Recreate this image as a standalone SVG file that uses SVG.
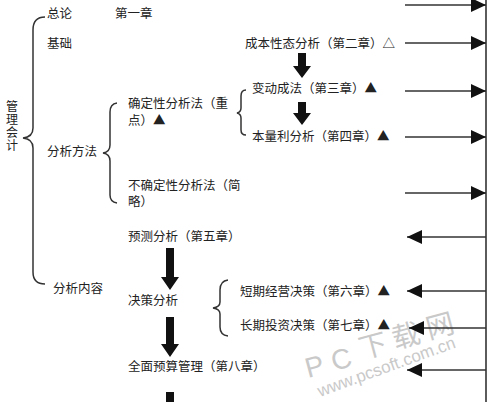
<svg xmlns="http://www.w3.org/2000/svg" width="494" height="402" viewBox="0 0 494 402">
<style>
.t{font-family:"Noto Sans CJK SC","Noto Sans",sans-serif;font-size:12.5px;fill:#222}
.ln{stroke:#333;stroke-width:1.6;fill:none}
.br{stroke:#333;stroke-width:1.5;fill:none}
.big{fill:#111}
.wm{font-family:"Liberation Sans","Noto Sans CJK SC",sans-serif;fill:#c9c9c9}
</style>
<defs>
<marker id="ah" markerUnits="userSpaceOnUse" markerWidth="16" markerHeight="16" refX="15" refY="7" orient="auto">
<path d="M0,0 L15,7 L0,14 Z" fill="#111"/>
</marker>
</defs>
<rect width="494" height="402" fill="#fff"/>

<g id="watermark">
<text class="wm" x="308" y="378" font-size="28" transform="rotate(-15 308 378)">P</text>
<text class="wm" x="334" y="371" font-size="28" transform="rotate(-15 334 371)">C</text>
<text class="wm" x="362" y="359" font-size="28" transform="rotate(-15 362 359)">下</text>
<text class="wm" x="395" y="349" font-size="28" transform="rotate(-15 395 349)">载</text>
<text class="wm" x="429" y="339" font-size="28" transform="rotate(-15 429 339)">网</text>
<text class="wm" x="320" y="397" font-size="17" transform="rotate(-20 320 397)">www.pcsoft.com.cn</text>
</g>

<g id="connectors">
<line class="ln" x1="486" y1="0" x2="486" y2="402" stroke-width="2"/>
<line class="ln" x1="405" y1="5" x2="486" y2="5" marker-end="url(#ah)"/>
<line class="ln" x1="405" y1="43" x2="486" y2="43" marker-end="url(#ah)"/>
<line class="ln" x1="405" y1="91" x2="486" y2="91" marker-end="url(#ah)"/>
<line class="ln" x1="405" y1="137" x2="486" y2="137" marker-end="url(#ah)"/>
<line class="ln" x1="405" y1="193" x2="486" y2="193" marker-end="url(#ah)"/>
<line class="ln" x1="486" y1="237" x2="407" y2="237" marker-end="url(#ah)"/>
<line class="ln" x1="486" y1="291" x2="407" y2="291" marker-end="url(#ah)"/>
<line class="ln" x1="486" y1="328" x2="409" y2="328" marker-end="url(#ah)"/>
<line class="ln" x1="486" y1="370" x2="407" y2="370" marker-end="url(#ah)"/>
<path class="big" d="M298,53 H306 V66 H311 L302,78 L293,66 H298 Z"/>
<path class="big" d="M298,102 H306 V113 H311 L302,125 L293,113 H298 Z"/>
<path class="big" d="M166,248 H174 V277 H179 L170,290 L161,277 H166 Z"/>
<path class="big" d="M166,317 H174 V344 H179 L170,357 L161,344 H166 Z"/>
<path class="big" d="M166,392 H174 V402 H166 Z"/>
<path class="br" d="M45,17 Q33,17 33,30 V128 Q33,137 23,138 Q33,139 33,148 V272 Q33,284 45,284"/>
<path class="br" d="M117,103 Q110,104 110,112 V145 Q110,152 103,153 Q110,154 110,161 V195 Q110,202 117,203"/>
<path class="br" d="M246,90 Q241,90 241,96 V108 Q241,112 237,113 Q241,114 241,118 V130 Q241,135 246,135"/>
<path class="br" d="M228,280 Q220,281 220,290 V302 Q220,307 213,308 Q220,309 220,314 V327 Q220,335 228,336"/>
</g>

<g id="n-root"><text class="t" x="12" y="100" style="writing-mode:vertical-rl;font-size:12px" letter-spacing="1">管理会计</text></g>
<g id="n-zonglun"><text class="t" x="47" y="17.5">总论</text></g>
<g id="n-ch1"><text class="t" x="115" y="17.5">第一章</text></g>
<g id="n-jichu"><text class="t" x="47" y="47.5">基础</text></g>
<g id="n-ch2"><text class="t" x="245" y="47.5">成本性态分析（第二章）△</text></g>
<g id="n-ch3"><text class="t" x="252" y="92.5">变动成法（第三章）▲</text></g>
<g id="n-ch4"><text class="t" x="252" y="140.5">本量利分析（第四章）▲</text></g>
<g id="n-queding"><text class="t"><tspan x="128" y="107.5">确定性分析法（重</tspan><tspan x="128" y="124.5">点）▲</tspan></text></g>
<g id="n-fangfa"><text class="t" x="47" y="155.5">分析方法</text></g>
<g id="n-buqueding"><text class="t"><tspan x="128" y="189.5">不确定性分析法（简</tspan><tspan x="128" y="205.5">略）</tspan></text></g>
<g id="n-ch5"><text class="t" x="128" y="240.5">预测分析（第五章）</text></g>
<g id="n-neirong"><text class="t" x="53" y="292.5">分析内容</text></g>
<g id="n-juece"><text class="t" x="128" y="304.5">决策分析</text></g>
<g id="n-ch6"><text class="t" x="240" y="295.5">短期经营决策（第六章）▲</text></g>
<g id="n-ch7"><text class="t" x="240" y="329.5">长期投资决策（第七章）▲</text></g>
<g id="n-ch8"><text class="t" x="128" y="370.5">全面预算管理（第八章）</text></g>
</svg>
